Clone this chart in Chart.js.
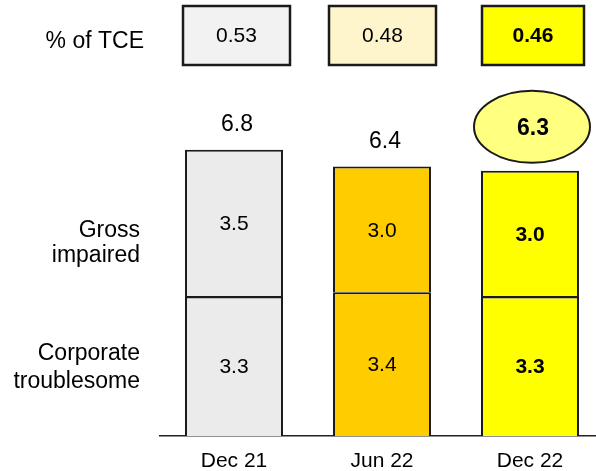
<!DOCTYPE html>
<html>
<head>
<meta charset="utf-8">
<script src="https://cdn.jsdelivr.net/npm/chart.js@4"></script>
<style>
  html, body { margin: 0; padding: 0; background: #fff; overflow: hidden; }
  canvas { display: block; }
</style>
</head>
<body>
<canvas id="npaChart" width="610" height="471"></canvas>
<script>
const periods = ['Dec 21', 'Jun 22', 'Dec 22'];
const corporateTroublesome = [3.3, 3.4, 3.3];
const grossImpaired = [3.5, 3.0, 3.0];
const pctOfTce = [0.53, 0.48, 0.46];

const barColors = ['#ebebeb', '#ffcc00', '#ffff00'];
const boxColors = ['#f2f2f2', '#fff5cc', '#ffff00'];
// x, y, w, h of the % of TCE boxes
const boxRects = [[183, 6, 107, 59], [329, 6, 107, 59], [482, 6, 102, 59]];
const latest = periods.length - 1;
const FONT = 'Arial, "Liberation Sans", sans-serif';
const INK = '#1a1a1a';

const totals = corporateTroublesome.map((v, i) => v + grossImpaired[i]);

const overlay = {
  id: 'overlay',
  afterDatasetsDraw(chart) {
    const ctx = chart.ctx;
    const metas = [chart.getDatasetMeta(0).data, chart.getDatasetMeta(1).data];
    const series = [corporateTroublesome, grossImpaired];
    ctx.save();
    ctx.textAlign = 'center';
    ctx.textBaseline = 'middle';
    ctx.fillStyle = '#000';

    // values inside each segment
    metas.forEach((els, d) => {
      els.forEach((el, i) => {
        ctx.font = (i === latest ? 'bold ' : '') + '21px ' + FONT;
        ctx.fillText(series[d][i].toFixed(1), el.x, (el.y + el.base) / 2 + 1);
      });
    });

    // totals above bars, latest one in a callout ellipse
    metas[1].forEach((el, i) => {
      const label = totals[i].toFixed(1);
      if (i === latest) {
        const cx = el.x + 2, cy = el.y - 44;
        ctx.beginPath();
        ctx.ellipse(cx, cy, 58, 36, 0, 0, Math.PI * 2);
        ctx.fillStyle = '#ffff80';
        ctx.fill();
        ctx.lineWidth = 2;
        ctx.strokeStyle = INK;
        ctx.stroke();
        ctx.fillStyle = '#000';
        ctx.font = 'bold 23px ' + FONT;
        ctx.fillText(label, cx + 1, cy + 2);
      } else {
        ctx.font = '23px ' + FONT;
        ctx.fillText(label, el.x + 3, el.y - 25);
      }
    });

    // % of TCE row
    ctx.textAlign = 'right';
    ctx.font = '23px ' + FONT;
    ctx.fillText('% of TCE', 144, 42);
    boxRects.forEach(([x, y, w, h], i) => {
      ctx.fillStyle = boxColors[i];
      ctx.fillRect(x, y, w, h);
      ctx.lineWidth = 2.5;
      ctx.strokeStyle = INK;
      ctx.strokeRect(x, y, w, h);
      ctx.fillStyle = '#000';
      ctx.textAlign = 'center';
      ctx.font = (i === latest ? 'bold ' : '') + '21px ' + FONT;
      ctx.fillText(pctOfTce[i].toFixed(2), x + w / 2, y + h / 2 + 1);
    });

    // series names on the left
    ctx.textAlign = 'right';
    ctx.textBaseline = 'alphabetic';
    ctx.font = '23px ' + FONT;
    ctx.fillText('Gross', 140, 237);
    ctx.fillText('impaired', 140, 262);
    ctx.fillText('Corporate', 140, 360);
    ctx.fillText('troublesome', 140, 388);
    ctx.restore();
  }
};

new Chart(document.getElementById('npaChart'), {
  type: 'bar',
  data: {
    labels: periods,
    datasets: [
      {
        label: 'Corporate troublesome',
        data: corporateTroublesome,
        backgroundColor: barColors,
        borderColor: INK,
        borderWidth: { top: 1.5, left: 2, right: 2, bottom: 0 },
        borderSkipped: false,
      },
      {
        label: 'Gross impaired',
        data: grossImpaired,
        backgroundColor: barColors,
        borderColor: INK,
        borderWidth: { top: 2, left: 2, right: 2, bottom: 1 },
        borderSkipped: false,
      },
    ],
  },
  options: {
    responsive: false,
    animation: false,
    devicePixelRatio: 1,
    layout: { padding: { left: 160, right: 6, top: 15, bottom: 0 } },
    barPercentage: 1,
    categoryPercentage: 0.662,
    plugins: { legend: { display: false }, tooltip: { enabled: false } },
    scales: {
      x: {
        stacked: true,
        grid: { display: false, drawTicks: false },
        border: { display: true, color: '#222', width: 1.5 },
        ticks: { color: '#000', padding: 15, font: { family: FONT, size: 21, lineHeight: 1 } },
        afterFit(scale) { scale.height = 35; },
      },
      y: {
        stacked: true,
        display: false,
        min: 0,
        max: 10,
      },
    },
  },
  plugins: [overlay],
});
</script>
</body>
</html>
